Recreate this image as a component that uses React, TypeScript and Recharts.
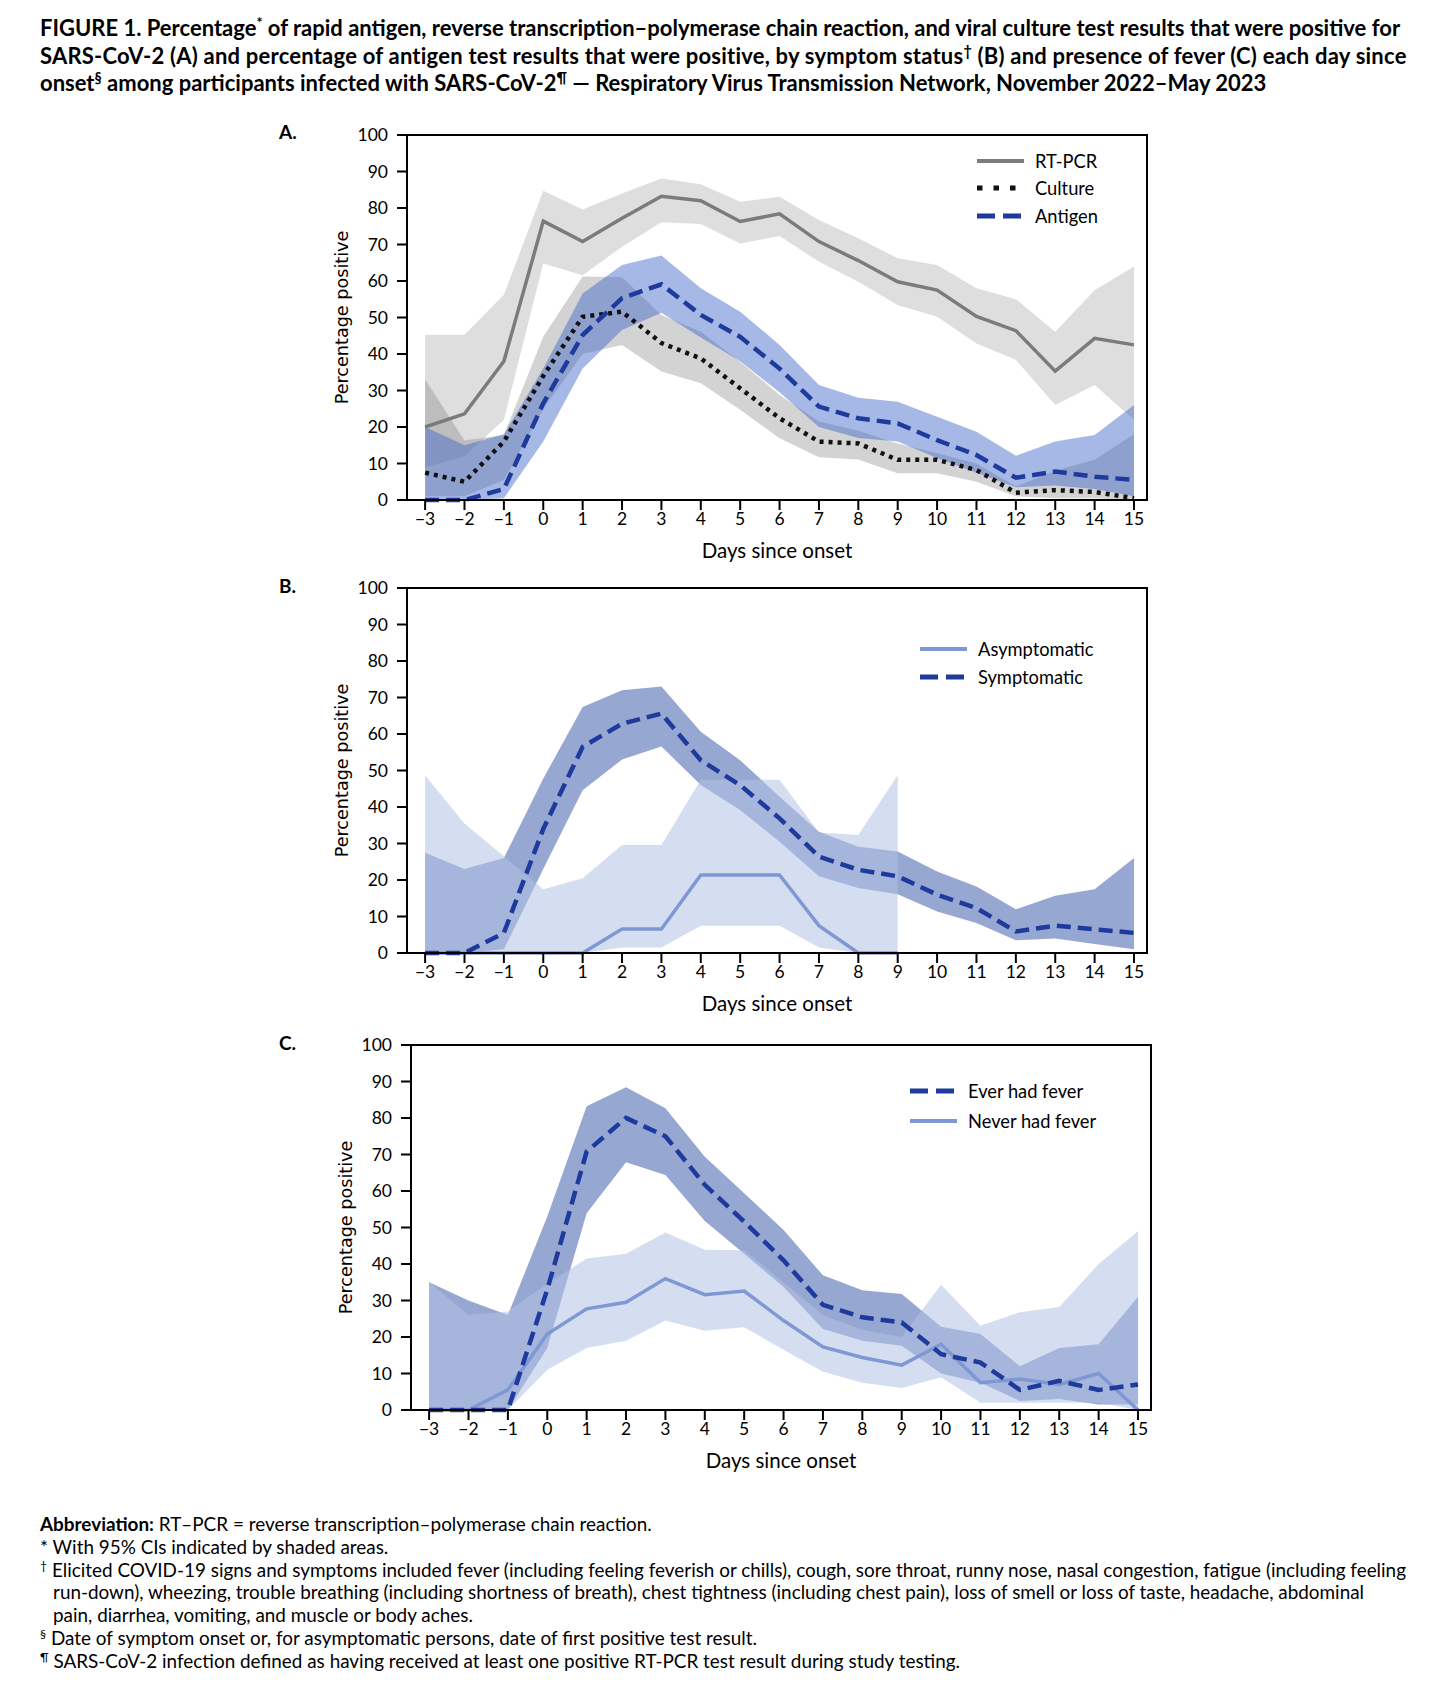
import React from 'react'
import { Area, ComposedChart, Label, Legend, Line, ReferenceArea, XAxis, YAxis } from 'recharts'

const DAYS = [-3, -2, -1, 0, 1, 2, 3, 4, 5, 6, 7, 8, 9, 10, 11, 12, 13, 14, 15]
const DAY_LABELS = ['\u22123', '\u22122', '\u22121', '0', '1', '2', '3', '4', '5', '6', '7', '8', '9', '10', '11', '12', '13', '14', '15']
const PCT_TICKS = [0, 10, 20, 30, 40, 50, 60, 70, 80, 90, 100]

// A: RT-PCR, culture, antigen
const RTPCR = [20, 23.6, 38, 76.4, 70.8, 77.2, 83.2, 82, 76.3, 78.4, 70.8, 65.6, 59.8, 57.5, 50.3, 46.4, 35.3, 44.3, 42.5]
const RTPCR_LO = [9, 12, 22, 64.8, 61.6, 69.4, 76.1, 75.6, 70.3, 72.3, 65.3, 59.8, 53.4, 50.2, 42.9, 38.4, 26, 31.5, 22]
const RTPCR_HI = [45.3, 45.3, 56.2, 84.7, 79.6, 84, 88.1, 86.5, 81.7, 83.1, 76.7, 71.7, 66.2, 64.4, 58, 55, 46.1, 57.5, 64]
const CULTURE = [7.5, 5, 16, 34, 50.2, 51.6, 43, 38.8, 30.6, 22.4, 16, 15.5, 11, 11, 8.2, 2, 2.7, 2.2, 0.5]
const CULTURE_LO = [1, 1, 5.5, 25, 40, 42.5, 35.2, 32, 24.7, 16.9, 11.7, 11.1, 7.3, 7.3, 5, 1, 0.5, 0.5, 0]
const CULTURE_HI = [33, 16.3, 17.8, 44.7, 61.2, 61, 50.7, 46.1, 37.9, 28.8, 21.5, 19, 15.5, 12.8, 10, 3.7, 8, 11, 18]
const ANTIGEN = [0, 0, 3, 26.5, 45.2, 55.3, 59.1, 50.7, 44.7, 36, 25.6, 22.4, 21, 16.4, 12.3, 6.1, 7.8, 6.4, 5.5]
const ANTIGEN_LO = [0, 0, 0.5, 16, 36, 46.6, 51.3, 44.5, 38, 29.5, 20, 17, 16, 11.5, 7.5, 3.5, 4, 3, 1]
const ANTIGEN_HI = [20, 15, 18, 36, 56.6, 64.4, 67, 58, 51.6, 42.5, 31.5, 28, 26.9, 22.8, 18.7, 12.1, 16, 17.8, 26]

// B: symptom status
const ASYMPTOMATIC = [0, 0, 0, 0, 0, 6.6, 6.6, 21.4, 21.4, 21.4, 7.5, 0, 0, null, null, null, null, null, null]
const ASYMPTOMATIC_LO = [0, 0, 0, 0, 0, 1.5, 1.5, 7.5, 7.5, 7.5, 1.5, 0, 0, null, null, null, null, null, null]
const ASYMPTOMATIC_HI = [48.7, 35.5, 26.5, 17.5, 20.5, 29.6, 29.6, 47.5, 47.5, 47.5, 33, 32.3, 48.7, null, null, null, null, null, null]
const SYMPTOMATIC = [0, 0, 5.5, 34, 56.5, 62.8, 65.6, 52.8, 46, 36.9, 26.4, 22.8, 21, 16, 12.3, 5.9, 7.5, 6.5, 5.5]
const SYMPTOMATIC_LO = [0, 0, 1, 23, 44.6, 53, 56.6, 46, 39.2, 30.5, 21, 17.8, 16.1, 11.4, 8.2, 3.5, 4, 2.5, 1]
const SYMPTOMATIC_HI = [27.5, 23, 26, 47.8, 67.4, 72, 73, 60.6, 52.8, 42.8, 33.2, 29.1, 27.8, 22.3, 18.2, 12, 15.7, 17.5, 26]

// C: fever
const EVER_FEVER = [0, 0, 0, 33, 70.8, 80, 75, 61.7, 51.6, 41, 28.8, 25.4, 24, 15.3, 13, 5.5, 8, 5.5, 7]
const EVER_FEVER_LO = [0, 0, 0, 17, 53.9, 67.9, 64.4, 51.8, 42.8, 33.7, 22.2, 19, 17.6, 10, 7.5, 2.5, 3, 1.5, 1.5]
const EVER_FEVER_HI = [35, 30, 26, 53, 83.2, 88.4, 82.7, 69.4, 59.4, 49.3, 36.9, 32.8, 31.8, 22.8, 20.8, 12, 17, 18, 31]
const NEVER_FEVER = [0, 0, 5.5, 20.8, 27.7, 29.5, 36, 31.6, 32.6, 24.5, 17.3, 14.4, 12.3, 18, 7.5, 8.5, 7, 10, 0]
const NEVER_FEVER_LO = [0, 0, 0, 11, 17, 19, 24.5, 21.7, 22.7, 16.5, 10.5, 7.5, 6, 9, 2, 2, 2, 2, 0]
const NEVER_FEVER_HI = [35, 26, 27, 34.6, 41.5, 42.8, 48.6, 43.9, 43.8, 35, 26, 22, 20, 34.3, 23.1, 26.8, 28.2, 40, 49]

const range = (lo: (number | null)[], hi: (number | null)[], i: number) =>
  lo[i] == null || hi[i] == null ? null : [lo[i], hi[i]]

const dataA = DAYS.map((day, i) => ({
  day,
  rtpcr: RTPCR[i],
  rtpcrCI: range(RTPCR_LO, RTPCR_HI, i),
  culture: CULTURE[i],
  cultureCI: range(CULTURE_LO, CULTURE_HI, i),
  antigen: ANTIGEN[i],
  antigenCI: range(ANTIGEN_LO, ANTIGEN_HI, i)
}))

const dataB = DAYS.map((day, i) => ({
  day,
  asym: ASYMPTOMATIC[i],
  asymCI: range(ASYMPTOMATIC_LO, ASYMPTOMATIC_HI, i),
  sym: SYMPTOMATIC[i],
  symCI: range(SYMPTOMATIC_LO, SYMPTOMATIC_HI, i)
}))

const dataC = DAYS.map((day, i) => ({
  day,
  ever: EVER_FEVER[i],
  everCI: range(EVER_FEVER_LO, EVER_FEVER_HI, i),
  never: NEVER_FEVER[i],
  neverCI: range(NEVER_FEVER_LO, NEVER_FEVER_HI, i)
}))

const SANS = 'Lato, "Open Sans", sans-serif'
const X_DOMAIN = [-3.46, 15.33]
const DARK_BLUE = '#1d3a9c'
const MID_BLUE = '#7f98d4'

type LineStyle = { color: string; dash?: string; legendDash?: string; width: number }
type LegendItem = { name: string } & LineStyle

const STYLE_RTPCR: LineStyle = { color: '#7b7b7b', width: 3.5 }
const STYLE_CULTURE: LineStyle = { color: '#111', dash: '4 5', legendDash: '5.5 11', width: 4.5 }
const STYLE_ANTIGEN: LineStyle = { color: DARK_BLUE, dash: '14 7', legendDash: '18 8', width: 4.5 }
const STYLE_LIGHT: LineStyle = { color: MID_BLUE, width: 3.5 }

function LegendBox({ items, gap }: { items: LegendItem[]; gap: number }) {
  return (
    <div style={{ fontFamily: SANS, fontSize: 18.3, color: '#000' }}>
      {items.map((it) => (
        <div key={it.name} style={{ display: 'flex', alignItems: 'center', height: gap }}>
          <svg width={47} height={10} style={{ marginRight: 11 }}>
            <line x1={0} y1={5} x2={47} y2={5} stroke={it.color} strokeWidth={it.width + 0.5} strokeDasharray={it.legendDash} />
          </svg>
          <span>{it.name}</span>
        </div>
      ))}
    </div>
  )
}

function Panel({
  data,
  children,
  legend,
  legendLeft,
  legendTop,
  legendGap
}: {
  data: any[]
  children: React.ReactNode
  legend: LegendItem[]
  legendLeft: number
  legendTop: number
  legendGap: number
}) {
  return (
    <ComposedChart width={867} height={460} data={data} margin={{ top: 25, right: 20, bottom: 0, left: 0 }}>
      <XAxis
        dataKey="day"
        type="number"
        domain={X_DOMAIN}
        ticks={DAYS}
        interval={0}
        allowDataOverflow
        tickFormatter={(v) => DAY_LABELS[DAYS.indexOf(v)]}
        tickSize={10}
        tickMargin={3}
        height={70}
        axisLine={{ stroke: '#000', strokeWidth: 2 }}
        tickLine={{ stroke: '#000', strokeWidth: 2 }}
        tick={{ fill: '#000', fontSize: 17.5, fontFamily: SANS }}
      >
        <Label
          content={(p: any) => {
            const vb = p.viewBox || { x: 107, y: 390, width: 740 }
            return (
              <text x={vb.x + vb.width / 2} y={vb.y + 50} textAnchor="middle" dominantBaseline="central" fontFamily={SANS} fontSize={20.5} fill="#000">
                Days since onset
              </text>
            )
          }}
        />
      </XAxis>
      <YAxis
        type="number"
        domain={[0, 100]}
        ticks={PCT_TICKS}
        interval={0}
        width={107}
        tickSize={10}
        tickMargin={9}
        axisLine={{ stroke: '#000', strokeWidth: 2 }}
        tickLine={{ stroke: '#000', strokeWidth: 2 }}
        tick={{ fill: '#000', fontSize: 17.5, fontFamily: SANS }}
      >
        <Label
          content={(p: any) => {
            const vb = p.viewBox || { x: 0, y: 25, height: 365 }
            const cx = vb.x + 42
            const cy = vb.y + vb.height / 2
            return (
              <text x={cx} y={cy} transform={`rotate(-90 ${cx} ${cy})`} textAnchor="middle" dominantBaseline="central" fontFamily='"DejaVu Sans", Verdana, sans-serif' fontSize={17.6} fill="#000">
                Percentage positive
              </text>
            )
          }}
        />
      </YAxis>
      {children}
      <ReferenceArea x1={X_DOMAIN[0]} x2={X_DOMAIN[1]} y1={0} y2={100} fill="none" stroke="#000" strokeWidth={2} />
      <Legend
        layout="vertical"
        align="center"
        verticalAlign="middle"
        content={() => <LegendBox items={legend} gap={legendGap} />}
        wrapperStyle={{ position: 'absolute', left: legendLeft, top: legendTop, width: 'auto', height: 'auto' }}
      />
    </ComposedChart>
  )
}

const band = (key: string, fill: string, opacity: number) => (
  <Area
    key={key}
    dataKey={key}
    type="linear"
    stroke="none"
    fill={fill}
    fillOpacity={opacity}
    dot={false}
    activeDot={false}
    legendType="none"
    isAnimationActive={false}
  />
)

const curve = (key: string, s: LineStyle) => (
  <Line
    key={key}
    dataKey={key}
    type="linear"
    stroke={s.color}
    strokeWidth={s.width}
    strokeDasharray={s.dash}
    dot={false}
    activeDot={false}
    isAnimationActive={false}
  />
)

const sup: React.CSSProperties = { fontSize: '0.65em', verticalAlign: 'super', lineHeight: 0 }

export default function App() {
  return (
    <div style={{ position: 'relative', width: 1456, height: 1696, background: '#fff', fontFamily: SANS, color: '#000' }}>
      <style>{'body{margin:0}'}</style>
      <div style={{ position: 'absolute', left: 40, top: 14, fontSize: 22, fontWeight: 700, lineHeight: '27.5px', whiteSpace: 'nowrap' }}>
        FIGURE 1. Percentage<span style={sup}>*</span> of rapid antigen, reverse transcription–polymerase chain reaction, and viral culture test results that were positive for
        <br />
        <span style={{ letterSpacing: '0.22px' }}>
          SARS-CoV-2 (A) and percentage of antigen test results that were positive, by symptom status<span style={sup}>†</span> (B) and presence of fever (C) each day since
        </span>
        <br />
        onset<span style={sup}>§</span> among participants infected with SARS-CoV-2<span style={sup}>¶</span> — Respiratory Virus Transmission Network, November 2022–May 2023
      </div>

      <div style={{ position: 'absolute', left: 279, top: 120, fontSize: 19, fontWeight: 700 }}>A.</div>
      <div style={{ position: 'absolute', left: 279, top: 574, fontSize: 19, fontWeight: 700 }}>B.</div>
      <div style={{ position: 'absolute', left: 279, top: 1031, fontSize: 19, fontWeight: 700 }}>C.</div>

      <div style={{ position: 'absolute', left: 300, top: 110 }}>
        <Panel
          data={dataA}
          legend={[
            { name: 'RT-PCR', ...STYLE_RTPCR },
            { name: 'Culture', ...STYLE_CULTURE },
            { name: 'Antigen', ...STYLE_ANTIGEN }
          ]}
          legendLeft={677}
          legendTop={37}
          legendGap={27.5}
        >
          {band('rtpcrCI', '#b0b0b0', 0.42)}
          {band('cultureCI', '#808080', 0.35)}
          {band('antigenCI', '#3a62c6', 0.45)}
          {curve('rtpcr', STYLE_RTPCR)}
          {curve('culture', STYLE_CULTURE)}
          {curve('antigen', STYLE_ANTIGEN)}
        </Panel>
      </div>

      <div style={{ position: 'absolute', left: 300, top: 563 }}>
        <Panel
          data={dataB}
          legend={[
            { name: 'Asymptomatic', ...STYLE_LIGHT },
            { name: 'Symptomatic', ...STYLE_ANTIGEN }
          ]}
          legendLeft={620}
          legendTop={72}
          legendGap={28}
        >
          {band('symCI', '#2d4fa5', 0.5)}
          {band('asymCI', '#b2c2e5', 0.54)}
          {curve('asym', STYLE_LIGHT)}
          {curve('sym', STYLE_ANTIGEN)}
        </Panel>
      </div>

      <div style={{ position: 'absolute', left: 304, top: 1020 }}>
        <Panel
          data={dataC}
          legend={[
            { name: 'Ever had fever', ...STYLE_ANTIGEN },
            { name: 'Never had fever', ...STYLE_LIGHT }
          ]}
          legendLeft={606}
          legendTop={56}
          legendGap={30}
        >
          {band('everCI', '#2d4fa5', 0.5)}
          {band('neverCI', '#b2c2e5', 0.54)}
          {curve('never', STYLE_LIGHT)}
          {curve('ever', STYLE_ANTIGEN)}
        </Panel>
      </div>

      <div style={{ position: 'absolute', left: 40, top: 1513, fontSize: 18.9, lineHeight: '22.8px', whiteSpace: 'nowrap' }}>
        <div>
          <b>Abbreviation:</b> RT–PCR = reverse transcription–polymerase chain reaction.
        </div>
        <div>* With 95% CIs indicated by shaded areas.</div>
        <div>
          <span style={sup}>†</span> Elicited COVID-19 signs and symptoms included fever (including feeling feverish or chills), cough, sore throat, runny nose, nasal congestion, fatigue (including feeling
        </div>
        <div style={{ paddingLeft: 13 }}>
          run-down), wheezing, trouble breathing (including shortness of breath), chest tightness (including chest pain), loss of smell or loss of taste, headache, abdominal
        </div>
        <div style={{ paddingLeft: 13 }}>pain, diarrhea, vomiting, and muscle or body aches.</div>
        <div>
          <span style={sup}>§</span> Date of symptom onset or, for asymptomatic persons, date of first positive test result.
        </div>
        <div>
          <span style={sup}>¶</span> SARS-CoV-2 infection defined as having received at least one positive RT-PCR test result during study testing.
        </div>
      </div>
    </div>
  )
}
